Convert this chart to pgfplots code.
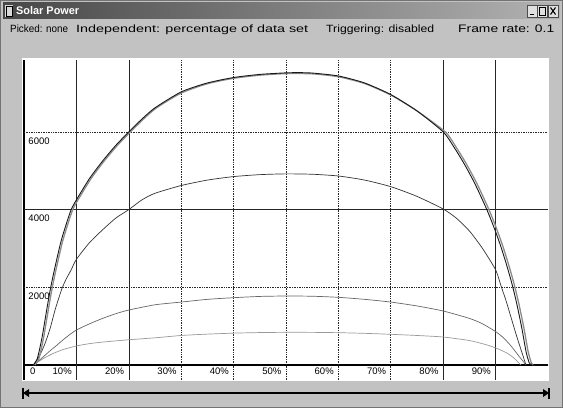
\documentclass[border=0pt]{standalone}
\usepackage{pgfplots}
\pgfplotsset{compat=1.18}
\usepackage{fontspec}
\setmainfont{Liberation Sans}
\begin{document}
\begin{tikzpicture}[x=1bp,y=1bp]
\clip (0,0) rectangle (563,408);
\fill[black!24] (0,0) rectangle (563,408);
\draw[black!55] (0.5,0.5) rectangle (562.5,407.5);
% title bar
\shade[left color=black!72, right color=black!30] (3,389) rectangle (560,405);
\fill[black!15] (5,391) rectangle (13,403);
\draw[black,line width=0.6bp] (6,392) rectangle (12,402);
\node[anchor=base west, inner sep=0pt, text=white] at (16,393) {\resizebox{63bp}{8bp}{\bfseries Solar Power}};
\foreach \a in {527,537,548}{
  \fill[black!12] (\a,391) rectangle (\a+10,403);
  \draw[black!70,line width=0.5bp] (\a,391) rectangle (\a+10,403);
}
\draw[black,line width=1.2bp] (529.5,393.5) -- (534,393.5);
\draw[black,line width=0.8bp] (539.5,393) rectangle (545,400.5);
\draw[black,line width=1.1bp] (550.5,393.5) -- (555.5,400.5) (550.5,400.5) -- (555.5,393.5);
% status line
\begin{scope}[every node/.style={anchor=base west, inner sep=0pt, font=\fontsize{10.5bp}{12bp}\selectfont}]
\node at (10,376) {\resizebox{58bp}{7.6bp}{Picked: none}};
\node at (76,376) {\resizebox{232bp}{7.6bp}{Independent: percentage of data set}};
\node at (326,376) {\resizebox{108bp}{7.6bp}{Triggering: disabled}};
\node at (458,376) {\resizebox{96bp}{7.6bp}{Frame rate: 0.1}};
\end{scope}
% white plot area
\fill[white] (22,27) rectangle (549,350);
% slider
\draw[black,line width=1.8bp] (24,15) -- (548,15);
\fill[black] (23,15) -- (29,19) -- (29,11) -- cycle;
\draw[black,line width=1.2bp] (23,9.5) -- (23,20.5);
\fill[black] (549,15) -- (543,19) -- (543,11) -- cycle;
\draw[black,line width=1.2bp] (549,9.5) -- (549,20.5);
\begin{axis}[
  at={(24bp,43bp)}, anchor=south west, scale only axis,
  width=524bp, height=305bp,
  xmin=0, xmax=100, ymin=0, ymax=7851,
  axis x line=bottom, axis y line=left,
  axis line style={-, black, line width=1.3bp},
  clip=false,
  major tick length=0pt,
  xtick={10,20,...,90},
  xticklabels={10\%,20\%,30\%,40\%,50\%,60\%,70\%,80\%,90\%},
  xticklabel style={anchor=north east, inner sep=0pt, xshift=-4.5bp, yshift=-2.5bp, font=\fontsize{9.5bp}{10bp}\selectfont},
  extra x ticks={0}, extra x tick labels={0},
  extra x tick style={xticklabel style={anchor=north west, xshift=10.5bp}},
  ytick={2000,4000,6000}, yticklabels={2000,4000,6000},
  yticklabel style={anchor=north west, inner sep=0pt, xshift=4.3bp, yshift=-5.5bp, font=\fontsize{9.5bp}{10bp}\selectfont},
]
% grid
\pgfplotsinvokeforeach{30,40,50,60,70}{
  \draw[black!85, densely dotted, line width=0.7bp] (axis cs:#1,-386) -- (axis cs:#1,7851);
}
\pgfplotsinvokeforeach{10,20,80,90}{
  \draw[black!85, line width=0.6bp] (axis cs:#1,-386) -- (axis cs:#1,7851);
}
\pgfplotsinvokeforeach{2000,6000}{
  \draw[black!85, densely dotted, line width=0.7bp] (axis cs:0,#1) -- (axis cs:100,#1);
}
\draw[black!85, line width=0.6bp] (axis cs:0,4000) -- (axis cs:100,4000);
\draw[black, line width=1.3bp] (axis cs:0,-386) -- (axis cs:0,0);
% curve 4
\addplot[black!40, line width=0.7bp, smooth, tension=0.4] coordinates {
(1.8,0) (3,110) (4,190) (5.6,300) (7.5,400) (10,490) (12.5,550) (15,590) (20,650)
(25,700) (30,760) (35,795) (40,820) (45,835) (50,841) (55,840) (60,832) (65,815)
(70,790) (75,760) (80,720) (85,630) (88,530) (90,440) (92,320) (93.5,180) (94.8,0)};
% curve 3
\addplot[black!60, line width=0.7bp, smooth, tension=0.4] coordinates {
(1.8,0) (3,130) (4,250) (5,370) (6,480) (7.4,640) (8.5,760) (10,900) (12.5,1060)
(15,1200) (17.5,1320) (20,1415) (25,1550) (30,1620) (35,1690) (40,1733) (45,1765)
(50,1776) (55,1770) (60,1742) (65,1690) (70,1620) (75,1520) (80,1390) (85,1200)
(87.5,1060) (90,860) (91.5,700) (93,480) (94.5,220) (95.8,0)};
% curve 2
\addplot[black!80, line width=0.7bp, smooth, tension=0.4] coordinates {
(1.8,0) (3,250) (4,550) (5,950) (6,1450) (7.2,1950) (8,2200) (9,2450) (10,2720)
(12.5,3150) (15,3480) (17.5,3780) (20,4000) (22.5,4250) (25,4420) (30,4620)
(35,4760) (40,4850) (45,4900) (50,4920) (55,4910) (60,4865) (65,4760) (70,4590)
(75,4340) (80,4015) (82.5,3780) (85,3450) (87.5,3000) (90,2450) (91,2050)
(92,1650) (93,1200) (94,750) (95,330) (95.8,0)};
% top curve, second strand
\addplot[black!45, line width=1.3bp, smooth, tension=0.4] coordinates {
(2.1,0) (2.8,150) (3.3,420) (3.8,750) (4.3,1150) (4.9,1630) (5.4,2000) (6.1,2450)
(7.3,3150) (8.3,3600) (9.3,4000) (10.3,4250) (12.8,4800) (15.3,5250) (17.8,5650)
(20.3,6000) (22.8,6330) (25.3,6620) (30,7000) (35,7240) (40,7380) (45,7460)
(50,7500) (55,7495) (60,7420) (65,7245) (70,6950) (75,6540) (80.4,6000)
(82.4,5620) (84.4,5180) (86.4,4680) (88.4,4100) (89.4,3780) (90.4,3430)
(91.4,3050) (92.4,2620) (93.4,2150) (94.4,1600) (95.4,950) (96.2,350) (96.8,60) (97.2,0)};
% top curve, main strand
\addplot[black!90, line width=0.9bp, smooth, tension=0.4] coordinates {
(1.8,0) (2.5,150) (3,420) (3.5,750) (4,1150) (4.6,1630) (5.1,2000) (5.8,2450)
(7,3150) (8,3600) (9,4000) (10,4250) (12.5,4800) (15,5250) (17.5,5650) (20,6000)
(22.5,6330) (25,6620) (30,7030) (35,7260) (40,7400) (45,7480) (50,7520)
(52.5,7525) (55,7515) (60,7440) (65,7260) (70,6960) (75,6540) (80,6000)
(82,5620) (84,5180) (86,4680) (88,4100) (89,3780) (90,3430) (91,3050) (92,2620)
(93,2150) (94,1600) (95,950) (95.8,350) (96.4,60) (96.8,0) (98,0) (100,0)};
\end{axis}
\end{tikzpicture}
\end{document}
